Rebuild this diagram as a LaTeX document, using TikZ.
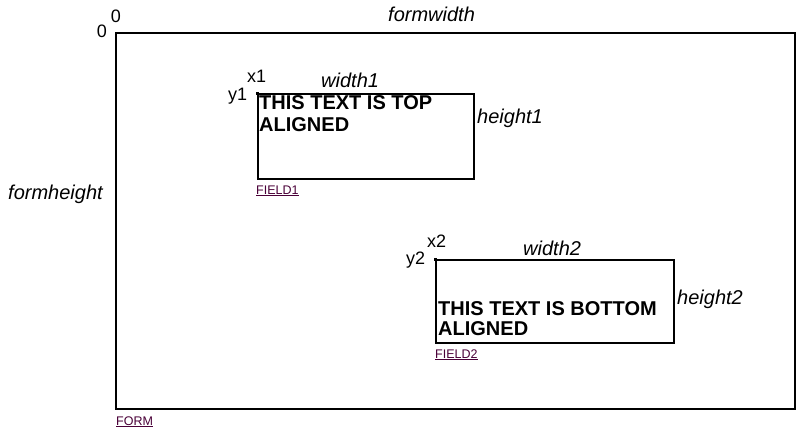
\documentclass[tikz,border=0pt]{standalone}
\usepackage{fontspec}
\setmainfont{Liberation Sans}
\definecolor{linkc}{HTML}{4A0038}
\begin{document}
\begin{tikzpicture}[x=1pt,y=-1pt,
  box/.style={draw,line width=2pt,inner sep=0pt,anchor=north west},
  lbl/.style={inner sep=0pt,anchor=base west,font=\fontsize{18}{18}\selectfont},
  dim/.style={inner sep=0pt,anchor=base west,font=\fontsize{20}{20}\selectfont\itshape},
  boldtxt/.style={inner sep=0pt,anchor=base west,font=\fontsize{20}{20}\selectfont\bfseries},
  link/.style={inner sep=0pt,anchor=base west,font=\fontsize{12.5}{12.5}\selectfont,text=linkc},
  cornerdot/.style={fill,inner sep=0pt,minimum size=3pt}]
\useasboundingbox (0,0) rectangle (810,431);
\fill[white] (0,0) rectangle (810,431);
% form
\node[box,minimum width=679pt,minimum height=376pt] (form) at (115,32) {};
\node[lbl,anchor=base] (zx) at (116,22) {0};
\node[lbl,anchor=base east] (zy) at (107,37) {0};
\node[dim] (fw) at (388,21) {formwidth};
\node[dim] (fh) at (8,199) {formheight};
\node[link] (formlbl) at (116,425) {\underline{FORM}};
% field 1
\node[box,minimum width=216pt,minimum height=85pt] (f1) at (257,93) {};
\node[cornerdot] (d1) at (257,93) {};
\node[lbl] (x1) at (247,82) {x1};
\node[lbl] (y1) at (228,100) {y1};
\node[dim] (w1) at (321,87) {width1};
\node[dim] (h1) at (477,123) {height1};
\node[boldtxt] (t1a) at (259,109) {THIS TEXT IS TOP};
\node[boldtxt] (t1b) at (259,131) {ALIGNED};
\node[link] (f1lbl) at (256,194) {\underline{FIELD1}};
% field 2
\node[box,minimum width=238pt,minimum height=83pt] (f2) at (435,259) {};
\node[cornerdot] (d2) at (435,259) {};
\node[lbl] (x2) at (427,247) {x2};
\node[lbl] (y2) at (406,264) {y2};
\node[dim] (w2) at (523,255) {width2};
\node[dim] (h2) at (677,304) {height2};
\node[boldtxt] (t2a) at (438,315) {THIS TEXT IS BOTTOM};
\node[boldtxt] (t2b) at (438,335) {ALIGNED};
\node[link] (f2lbl) at (435,358) {\underline{FIELD2}};
\end{tikzpicture}
\end{document}
